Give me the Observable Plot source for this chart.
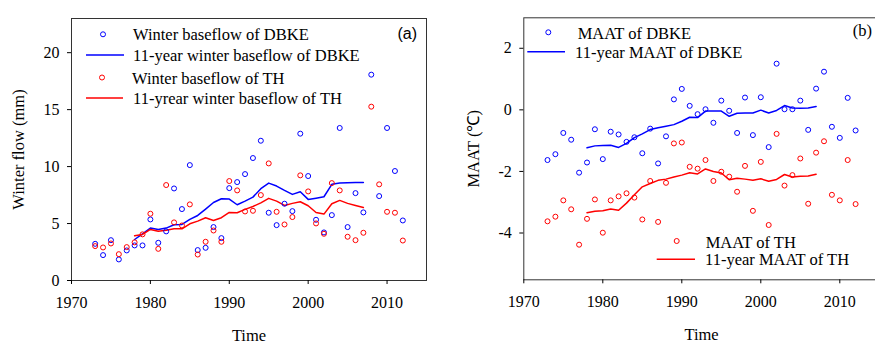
<!DOCTYPE html>
<html><head><meta charset="utf-8">
<script src="https://cdn.jsdelivr.net/npm/d3@7"></script>
<script src="https://cdn.jsdelivr.net/npm/@observablehq/plot@0.6"></script>
<style>
body{margin:0;background:#fff;overflow:hidden}
#wrap{display:flex;width:875px;height:343px;overflow:hidden}
#wrap svg{max-width:none !important;flex:none;font-family:"Liberation Serif","Times New Roman",serif}
#wrap svg text{font-family:"Liberation Serif","Times New Roman",serif}
#wrap svg text.sans{font-family:"Liberation Sans",Arial,sans-serif}
</style>
</head><body><div id="wrap"></div>
<script>
// ---------- data ----------
const years = d3.range(1973, 2013);
const smoothYears = d3.range(1978, 2008);
const xTicks = [1970, 1980, 1990, 2000, 2010];
const flowTicks = [0, 5, 10, 15, 20];
const maatTicks = [-4, -2, 0, 2];

const flowDBKE = [3.22,2.23,3.54,1.85,2.64,3.08,3.08,5.36,3.31,4.31, 8.08,6.27,10.13,2.67,2.87,4.69,3.72,8.11,8.64,9.34, 10.75,12.27,5.95,4.86,6.74,6.09,12.89,9.17,5.33,4.22, 5.74,13.39,4.69,7.67,5.98,18.07,7.41,13.39,9.61,5.27];
const flowTH = [3.02,2.90,3.25,2.31,2.93,3.35,4.05,5.86,2.78,8.38, 5.10,4.83,6.68,2.28,3.40,4.39,3.40,8.73,7.91,6.06, 6.12,7.50,10.28,6.03,4.92,5.57,9.23,7.82,5.01,4.10, 8.55,7.91,3.84,3.54,4.19,15.26,8.44,6.03,5.95,3.51];
const flowDBKE11 = [3.6,4.1,4.6,4.48,4.6,4.89,4.92,5.36,5.71,6.27,6.85,7.18,7.15,6.65,6.97,7.32,8.06,8.55,8.29,7.91,7.56,7.79,7.12,7.23,7.35,8.44,8.55,8.58,8.61,8.61];
const flowTH11 = [3.92,4.04,4.48,4.33,4.42,4.54,4.54,4.98,5.21,5.51,5.27,5.51,5.97,5.95,6.24,6.50,6.82,7.21,6.97,6.59,6.77,6.91,6.56,5.97,5.83,6.74,7.03,6.77,6.59,6.41];

const maatDBKE = [-1.63,-1.44,-0.75,-0.97,-2.04,-1.71,-0.63,-1.60,-0.71,-0.80, -1.04,-0.89,-1.41,-0.61,-1.74,-0.86,0.34,0.68,0.13,-0.14, 0.02,-0.42,0.30,-0.03,-0.75,0.40,-0.82,0.41,-1.21,1.50, 0.02,0.02,0.30,-0.65,0.69,1.24,-0.55,-0.91,0.39,-0.67];
const maatTH = [-3.62,-3.47,-2.94,-3.23,-4.38,-3.54,-2.91,-3.99,-2.94,-2.81, -2.71,-2.85,-3.56,-2.31,-3.64,-2.37,-1.09,-1.06,-1.85,-1.91, -1.63,-2.31,-2.01,-2.17,-2.66,-1.82,-3.28,-1.69,-3.74,-0.78, -2.46,-2.12,-1.58,-3.05,-1.39,-1.02,-2.76,-2.94,-1.63,-3.06];
const maatDBKE11 = [-1.23,-1.17,-1.16,-1.15,-1.22,-1.09,-0.90,-0.78,-0.64,-0.58,-0.53,-0.48,-0.37,-0.24,-0.25,-0.04,-0.04,-0.04,-0.21,-0.11,-0.10,-0.10,-0.01,-0.10,-0.02,0.14,0.06,0.05,0.06,0.11];
const maatTH11 = [-3.34,-3.29,-3.28,-3.22,-3.26,-3.03,-2.76,-2.50,-2.39,-2.29,-2.25,-2.18,-2.12,-2.04,-2.08,-1.92,-2.00,-2.05,-2.27,-2.22,-2.25,-2.29,-2.24,-2.32,-2.26,-2.10,-2.18,-2.16,-2.15,-2.09];

const labelsA = ["Winter baseflow of DBKE", "11-year winter baseflow of DBKE", "Winter baseflow of TH", "11-yrear winter baseflow of TH"];
const labelsB = ["MAAT of DBKE", "11-year MAAT of DBKE", "MAAT of TH", "11-year MAAT of TH"];

// ---------- styling ----------
const BLUE = "#0000ff", RED = "#ff0000";
const FONT = "Liberation Serif, Times New Roman, serif";
const R = 2.5;

const toRows = (xs, ys) => xs.map((x, i) => ({x, y: ys[i]}));

// legend render-function
function legendMark(items) {
  return () => {
    const g = d3.create("svg:g").attr("font-size", 16.5).attr("text-anchor", "start");
    for (const it of items) {
      if (it.type === "dot") {
        g.append("circle").attr("cx", it.mx1).attr("cy", it.my).attr("r", R)
          .attr("fill", "none").attr("stroke", it.color).attr("stroke-width", 1);
      } else if (it.type === "line") {
        g.append("line").attr("x1", it.mx1).attr("x2", it.mx2).attr("y1", it.my).attr("y2", it.my)
          .attr("stroke", it.color).attr("stroke-width", 1.5);
      }
      const t = g.append("text").attr("x", it.tx).attr("y", it.ty).attr("dy", "0.35em")
        .attr("text-anchor", "start").attr("fill", "black").text(it.label);
      if (it.sans) t.attr("class", "sans").attr("font-size", 16);
    }
    return g.node();
  };
}

function panel({width, marginLeft, marginRight, marginTop, marginBottom, yDomain, yTicks,
                dots1, dots2, line1, line2, yLabel, yLabelOffset, legend}) {
  return Plot.plot({
    width, height: 343, marginLeft, marginRight, marginTop, marginBottom,
    style: {fontFamily: FONT, fontSize: "16px", color: "black", background: "white", overflow: "visible"},
    x: {domain: [1970, 2015]},
    y: {domain: yDomain},
    marks: [
      Plot.frame({stroke: "#333", strokeWidth: 1}),
      Plot.axisX({ticks: xTicks, tickSize: 4, tickPadding: 12, tickFormat: d => String(d), label: null, fontSize: 16}),
      Plot.axisY({ticks: yTicks, tickSize: 4, tickPadding: 8, tickFormat: d => String(d), label: null, fontSize: 16}),
      Plot.line(line1, {x: "x", y: "y", stroke: BLUE, strokeWidth: 1.5}),
      Plot.line(line2, {x: "x", y: "y", stroke: RED, strokeWidth: 1.5}),
      Plot.dot(dots1, {x: "x", y: "y", r: R, stroke: BLUE, strokeWidth: 1, fill: "none"}),
      Plot.dot(dots2, {x: "x", y: "y", r: R, stroke: RED, strokeWidth: 1, fill: "none"}),
      Plot.text([yLabel], {frameAnchor: "left", dx: -yLabelOffset, rotate: -90, text: d => d, fontSize: 16.5, lineAnchor: "middle", textAnchor: "middle"}),
      Plot.text(["Time"], {frameAnchor: "bottom", dy: 55, text: d => d, fontSize: 16.5, lineAnchor: "middle"}),
      legendMark(legend)
    ]
  });
}

const svgA = panel({
  width: 440, marginLeft: 71, marginRight: 14, marginTop: 18, marginBottom: 63,
  yDomain: [0, 23], yTicks: flowTicks,
  dots1: toRows(years, flowDBKE), dots2: toRows(years, flowTH),
  line1: toRows(smoothYears, flowDBKE11), line2: toRows(smoothYears, flowTH11),
  yLabel: "Winter flow (mm)", yLabelOffset: 53,
  legend: [
    {type: "dot", color: BLUE, mx1: 103, my: 34.3, tx: 133, ty: 34.3, label: labelsA[0]},
    {type: "line", color: BLUE, mx1: 86, mx2: 124, my: 55, tx: 133, ty: 55, label: labelsA[1]},
    {type: "dot", color: RED, mx1: 102, my: 77.5, tx: 132, ty: 78.3, label: labelsA[2]},
    {type: "line", color: RED, mx1: 86, mx2: 123, my: 98, tx: 133, ty: 98.7, label: labelsA[3]},
    {type: "none", tx: 397.5, ty: 33.5, label: "(a)", sans: true}
  ]
});

const svgB = panel({
  width: 435, marginLeft: 83.3, marginRight: -3.8, marginTop: 17.3, marginBottom: 63.7,
  yDomain: [-5.52, 2.99], yTicks: maatTicks,
  dots1: toRows(years, maatDBKE), dots2: toRows(years, maatTH),
  line1: toRows(smoothYears, maatDBKE11), line2: toRows(smoothYears, maatTH11),
  yLabel: "MAAT (℃)", yLabelOffset: 50.3,
  legend: [
    {type: "dot", color: BLUE, mx1: 108.3, my: 32.3, tx: 137.7, ty: 33.2, label: labelsB[0]},
    {type: "line", color: BLUE, mx1: 87.3, mx2: 125, my: 51.7, tx: 135, ty: 52.5, label: labelsB[1]},
    {type: "dot", color: RED, mx1: 236.7, my: 241, tx: 265.7, ty: 242.5, label: labelsB[2]},
    {type: "line", color: RED, mx1: 216.7, mx2: 255, my: 259.3, tx: 265, ty: 259.2, label: labelsB[3]},
    {type: "none", tx: 412.7, ty: 30.5, label: "(b)"}
  ]
});

document.getElementById("wrap").append(svgA, svgB);
</script>
</body></html>
